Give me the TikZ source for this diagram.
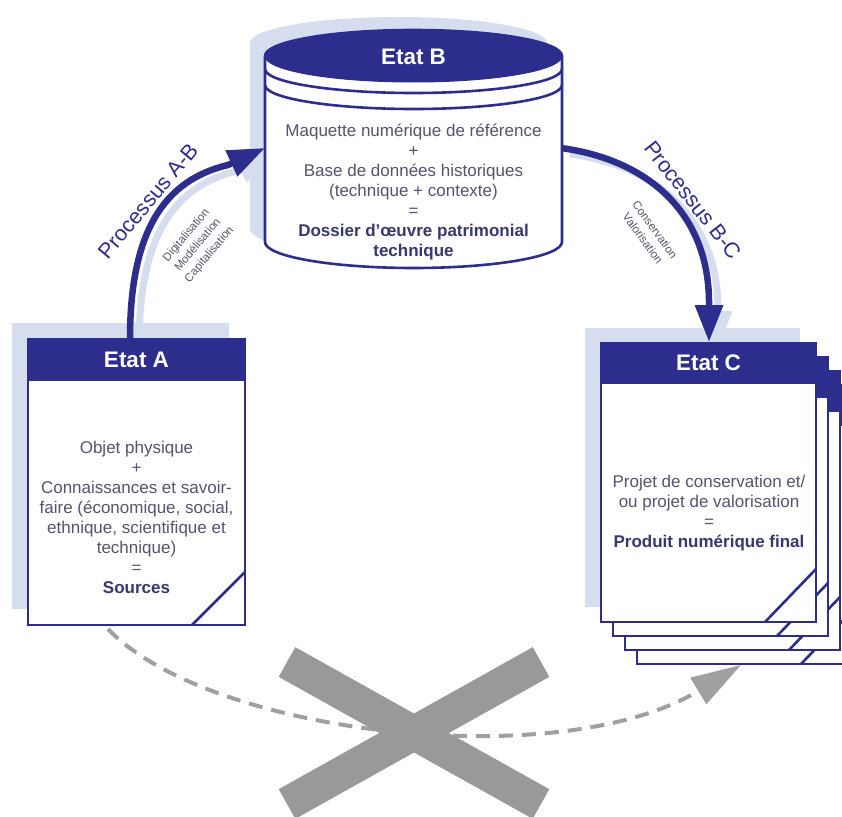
\documentclass[tikz,border=0pt]{standalone}
\usepackage{fontspec}
\setmainfont{Liberation Sans}
\usetikzlibrary{arrows.meta}
\definecolor{navy}{RGB}{44,45,140}
\definecolor{shadowblue}{RGB}{213,221,238}
\definecolor{txt}{RGB}{84,84,110}
\definecolor{txtb}{RGB}{56,56,112}
\definecolor{xgray}{RGB}{153,153,153}
\definecolor{dgray}{RGB}{160,160,160}
\begin{document}
\begin{tikzpicture}[x=1pt,y=-1pt,
  bodytext/.style={align=center,text=txt,font=\fontsize{17}{20}\selectfont,inner sep=0pt},
  titletext/.style={text=white,font=\fontsize{22.5}{26}\selectfont\bfseries,inner sep=0pt},
  boxframe/.style={draw=navy,fill=white,line width=2.6pt,inner sep=0pt,outer sep=0pt,minimum width=217,minimum height=286},
  headfill/.style={fill=navy,draw=navy,line width=2.6pt},
  edgeline/.style={draw=navy,line width=2.6pt},
  proc/.style={draw=navy,line width=6.5pt,-{Triangle[length=37pt,width=27pt]}},
  procshadow/.style={draw=shadowblue,line width=7pt,-{Triangle[length=37pt,width=27pt]}},
  proclabel/.style={text=navy,font=\fontsize{21.5}{24}\selectfont,inner sep=0pt},
  sublabel/.style={align=center,text=txt,font=\fontsize{11.5}{15}\selectfont,inner sep=0pt},
  noway/.style={draw=dgray,line width=4pt,dash pattern=on 14pt off 9pt,-{Triangle[length=50pt,width=30pt]}},
  cross/.style={draw=xgray,line width=34pt},
]
\useasboundingbox (0,0) rectangle (842,816);

% anchor coordinates
\coordinate (Atop) at (130,339);
\coordinate (Bin) at (265,148);
\coordinate (Bout) at (561,148);
\coordinate (Ctop) at (709,342);
\coordinate (Abot) at (108,629);
\coordinate (Cside) at (741,665);

% shadows
\begin{scope}[shift={(-15,-13)}]
  \fill[shadowblue] (265,56) -- (265,242) arc[start angle=180,end angle=0,x radius=148.5,y radius=26]
    -- (562,56) arc[start angle=0,end angle=-180,x radius=148.5,y radius=26] -- cycle;
\end{scope}
\fill[shadowblue] (12,323) rectangle (229,609);
\fill[shadowblue] (585,328) rectangle (800,607);
\draw[procshadow,transform canvas={xshift=9pt,yshift=-6pt}] (Atop) .. controls (130,230) and (165,180) .. (228,165) -- (Bin);
\draw[procshadow,transform canvas={xshift=9pt,yshift=-6pt}] (Bout) .. controls (650,160) and (710,215) .. (709,305) -- (Ctop);

% process arrows
\draw[proc] (Atop) .. controls (130,230) and (165,180) .. (228,165) -- (Bin);
\draw[proc] (Bout) .. controls (650,160) and (710,215) .. (709,305) -- (Ctop);

% Etat B cylinder
\filldraw[fill=white,draw=navy,line width=2.6pt,line join=round] (265,56) -- (265,242)
  arc[start angle=180,end angle=0,x radius=148.5,y radius=26]
  -- (562,56) arc[start angle=0,end angle=-180,x radius=148.5,y radius=26] -- cycle;
\filldraw[fill=navy,draw=navy,line width=1pt] (413.5,56) ellipse [x radius=148.5,y radius=26];
\draw[edgeline] (265,69) arc[start angle=180,end angle=0,x radius=148.5,y radius=24];
\draw[edgeline] (265,85) arc[start angle=180,end angle=0,x radius=148.5,y radius=24];
\node[titletext] (titleB) at (413.5,57) {Etat B};
\node[bodytext] (textB) at (413.5,192) {Maquette numérique de référence\\+\\Base de données historiques\\(technique + contexte)\\=\\{\bfseries\color{txtb}Dossier d’œuvre patrimonial}\\{\bfseries\color{txtb}technique}};

% Etat A
\node[boxframe] (boxA) at (136.5,482) {};
\filldraw[headfill] (28,339) rectangle (245,380);
\draw[edgeline] (192,625) -- (245,572);
\node[titletext] (titleA) at (136.5,360) {Etat A};
\node[bodytext] (textA) at (136.5,517) {Objet physique\\+\\Connaissances et savoir-\\faire (économique, social,\\ethnique, scientifique et\\technique)\\=\\{\bfseries\color{txtb}Sources}};

% Etat C stack
\foreach \i in {3,2,1}{
  \begin{scope}[shift={(12*\i,14*\i)}]
    \filldraw[fill=white,draw=navy,line width=2.6pt] (601,343) rectangle (816,622);
    \filldraw[headfill] (601,343) rectangle (816,383);
    \draw[edgeline] (765,622) -- (816,569);
  \end{scope}
}
\node[boxframe,minimum width=215,minimum height=279] (boxC) at (708.5,482.5) {};
\filldraw[headfill] (601,343) rectangle (816,383);
\draw[edgeline] (765,622) -- (816,569);
\node[titletext] (titleC) at (708.5,363) {Etat C};
\node[bodytext] (textC) at (709,513) {Projet de conservation et/\\ou projet de valorisation\\=\\{\bfseries\color{txtb}Produit numérique final}};

% labels
\node[proclabel,rotate=50] (labAB) at (148,201) {Processus A-B};
\node[sublabel,rotate=50] (subAB) at (198,245) {Digitalisation\\Modélisation\\Capitalisation};
\node[proclabel,rotate=-52] (labBC) at (693,200) {Processus B-C};
\node[sublabel,rotate=-54] (subBC) at (649,234) {Conservation\\Valorisation};

% impossible direct path
\draw[noway] (Abot) .. controls (210,735) and (560,775) .. (Cside);
\draw[cross] (287,662) -- (541,804);
\draw[cross] (287,804) -- (541,662);
\end{tikzpicture}
\end{document}
